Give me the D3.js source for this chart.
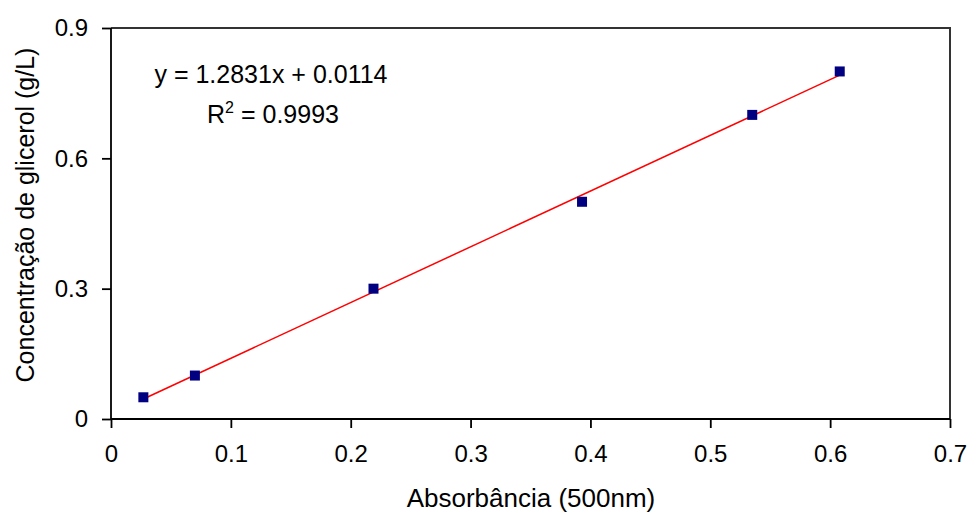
<!DOCTYPE html>
<html><head><meta charset="utf-8">
<script src="https://cdn.jsdelivr.net/npm/d3@7"></script>
<style>body{margin:0;background:#fff}svg{display:block}text{font-family:"Liberation Sans",Arial,sans-serif;fill:#000}</style>
</head><body><svg id="c" width="971" height="515"></svg>
<script>
const absorbance = [0.027, 0.070, 0.219, 0.393, 0.535, 0.608];
const glycerol = [0.05, 0.10, 0.30, 0.50, 0.70, 0.80];
const xTicks = [0, 0.1, 0.2, 0.3, 0.4, 0.5, 0.6, 0.7];
const yTicks = [0, 0.3, 0.6, 0.9];
const slope = 1.2831, intercept = 0.0114, r2 = "0.9993";
const xTitle = "Absorbância (500nm)";
const yTitle = "Concentração de glicerol (g/L)";

const svg = d3.select("#c");
const L = 111, R = 950, T = 28, B = 419;
const x = d3.scaleLinear().domain([0, 0.7]).range([L, R]);
const y = d3.scaleLinear().domain([0, 0.9]).range([B, T]);

// plot border (top/right)
svg.append("path").attr("d", `M${L},${T}H${R}V${B}`).attr("fill","none").attr("stroke","#333").attr("stroke-width",2);

const fmt = d => d === 0 ? "0" : d3.format(".1f")(d);
const xa = svg.append("g").attr("transform", `translate(0,${B})`)
  .call(d3.axisBottom(x).tickValues(xTicks).tickFormat(fmt).tickSize(9).tickSizeOuter(0).tickPadding(17));
const ya = svg.append("g").attr("transform", `translate(${L},0)`)
  .call(d3.axisLeft(y).tickValues(yTicks).tickFormat(fmt).tickSize(9).tickSizeOuter(0).tickPadding(14));
[xa, ya].forEach(a => {
  a.selectAll("path,line").attr("stroke","#000").attr("stroke-width",1.8);
  a.selectAll("text").attr("font-size",24).attr("font-family","Liberation Sans, Arial, sans-serif").attr("fill","#000");
});
xa.select(".domain").attr("d", `M${L},0H${R}`);
ya.select(".domain").attr("d", `M0,${B}V${T}`);

// trend line
const x0 = d3.min(absorbance), x1 = d3.max(absorbance);
svg.append("line")
  .attr("x1", x(x0)).attr("y1", y(slope*x0+intercept))
  .attr("x2", x(x1)).attr("y2", y(slope*x1+intercept))
  .attr("stroke","#ff0000").attr("stroke-width",1.5);

// markers
const s = 10;
svg.selectAll("rect.pt").data(absorbance).enter().append("rect").attr("class","pt")
  .attr("x", d => x(d) - s/2).attr("y", (d,i) => y(glycerol[i]) - s/2)
  .attr("width", s).attr("height", s).attr("fill","#000080");

// equation
svg.append("text").attr("x", 271).attr("y", 83).attr("text-anchor","middle").attr("font-size",25)
  .text(`y = ${slope}x + ${intercept}`);
const t2 = svg.append("text").attr("x", 273).attr("y", 123).attr("text-anchor","middle").attr("font-size",25);
t2.append("tspan").text("R");
t2.append("tspan").attr("font-size",16).attr("dy",-10).text("2");
t2.append("tspan").attr("dy",10).text(` = ${r2}`);

// axis titles
svg.append("text").attr("x", 531).attr("y", 507).attr("text-anchor","middle").attr("font-size",26).text(xTitle);
svg.append("text").attr("transform","translate(34,215) rotate(-90)").attr("text-anchor","middle").attr("font-size",25).text(yTitle);
</script></body></html>
